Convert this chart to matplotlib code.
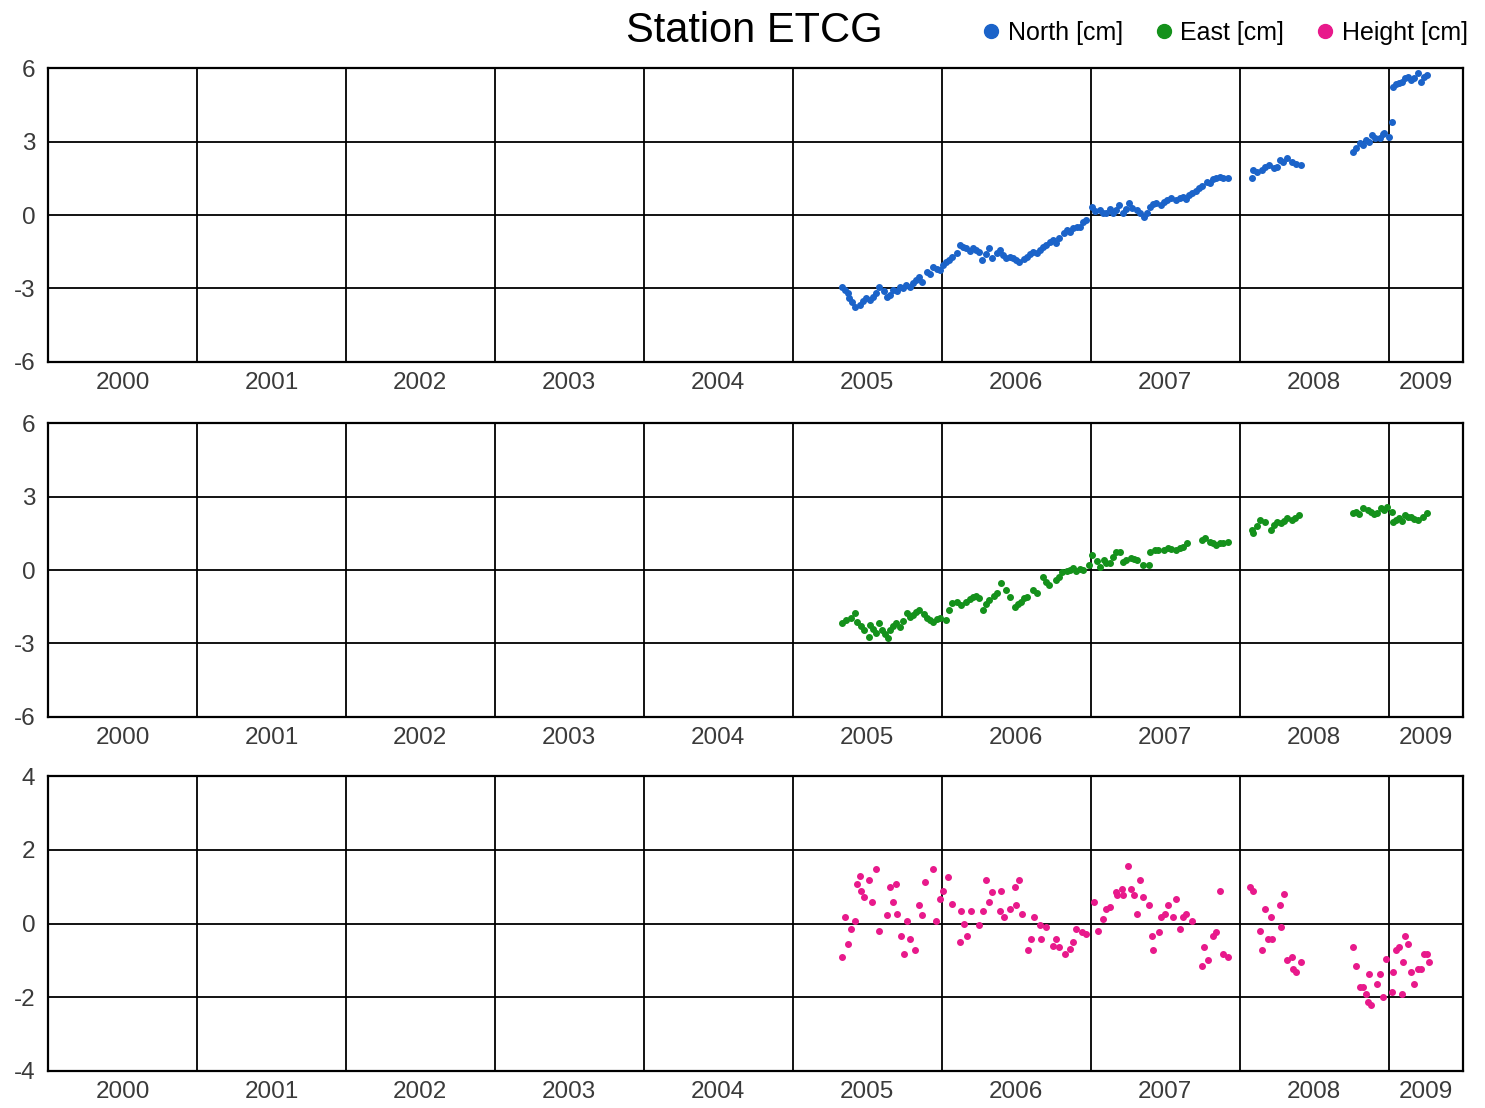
import matplotlib.pyplot as plt
from matplotlib.lines import Line2D

plt.rcParams['font.family'] = ['Liberation Sans', 'DejaVu Sans']
plt.rcParams['axes.unicode_minus'] = False

# North component [cm], decimal year / value
north_t = [2005.33, 2005.35, 2005.37, 2005.38, 2005.40, 2005.42, 2005.45, 2005.47, 2005.49, 2005.52,
           2005.54, 2005.56, 2005.58, 2005.61, 2005.63, 2005.65, 2005.67, 2005.70, 2005.72, 2005.74,
           2005.76, 2005.79, 2005.81, 2005.83, 2005.85, 2005.87, 2005.90, 2005.92, 2005.94, 2005.97,
           2005.99, 2006.01, 2006.03, 2006.05, 2006.07, 2006.10, 2006.12, 2006.14, 2006.16, 2006.19,
           2006.21, 2006.23, 2006.25, 2006.27, 2006.30, 2006.32, 2006.34, 2006.37, 2006.39, 2006.41,
           2006.43, 2006.46, 2006.48, 2006.50, 2006.52, 2006.55, 2006.57, 2006.59, 2006.61, 2006.64,
           2006.66, 2006.68, 2006.70, 2006.73, 2006.75, 2006.77, 2006.79, 2006.82, 2006.84, 2006.86,
           2006.88, 2006.91, 2006.93, 2006.95, 2006.97, 2007.01, 2007.03, 2007.06, 2007.08, 2007.10,
           2007.13, 2007.15, 2007.17, 2007.19, 2007.22, 2007.24, 2007.26, 2007.28, 2007.31, 2007.33,
           2007.36, 2007.38, 2007.40, 2007.42, 2007.44, 2007.47, 2007.49, 2007.51, 2007.54, 2007.57,
           2007.60, 2007.62, 2007.64, 2007.66, 2007.68, 2007.71, 2007.73, 2007.75, 2007.78, 2007.80,
           2007.82, 2007.84, 2007.87, 2007.89, 2007.92,
           2008.08, 2008.09, 2008.12, 2008.15, 2008.17, 2008.20, 2008.23, 2008.25, 2008.27, 2008.29,
           2008.32, 2008.35, 2008.38, 2008.41,
           2008.76, 2008.78, 2008.81, 2008.83, 2008.85, 2008.87, 2008.89, 2008.91, 2008.94, 2008.96,
           2008.97, 2009.00, 2009.02, 2009.03, 2009.05, 2009.07, 2009.09, 2009.11, 2009.13, 2009.15,
           2009.17, 2009.20, 2009.22, 2009.24, 2009.26]
north_v = [-2.95, -3.05, -3.18, -3.39, -3.55, -3.74, -3.67, -3.52, -3.40, -3.48,
           -3.33, -3.20, -2.93, -3.10, -3.33, -3.25, -3.06, -3.12, -2.93, -3.00,
           -2.86, -2.95, -2.78, -2.65, -2.52, -2.72, -2.31, -2.40, -2.11, -2.20,
           -2.24, -2.05, -1.90, -1.82, -1.70, -1.55, -1.22, -1.30, -1.36, -1.45,
           -1.36, -1.42, -1.50, -1.84, -1.60, -1.36, -1.77, -1.55, -1.43, -1.62,
           -1.77, -1.70, -1.77, -1.85, -1.90, -1.80, -1.70, -1.60, -1.50, -1.55,
           -1.43, -1.30, -1.22, -1.10, -1.02, -1.16, -0.95, -0.75, -0.61, -0.70,
           -0.54, -0.50, -0.48, -0.30, -0.20, 0.34, 0.15, 0.20, 0.10, 0.07,
           0.25, 0.07, 0.20, 0.41, 0.07, 0.25, 0.48, 0.30, 0.20, 0.10,
           -0.07, 0.10, 0.34, 0.45, 0.48, 0.40, 0.54, 0.60, 0.68, 0.62,
           0.70, 0.75, 0.65, 0.80, 0.89, 1.00, 1.09, 1.20, 1.36, 1.30,
           1.45, 1.50, 1.55, 1.50, 1.50,
           1.50, 1.84, 1.75, 1.84, 1.95, 2.04, 1.90, 1.97, 2.24, 2.15,
           2.31, 2.17, 2.10, 2.04,
           2.58, 2.75, 2.92, 2.85, 3.06, 3.00, 3.26, 3.15, 3.13, 3.30,
           3.33, 3.20, 3.81, 5.24, 5.35, 5.38, 5.45, 5.58, 5.65, 5.51,
           5.60, 5.78, 5.44, 5.65, 5.71]

# East component [cm]
east_t = [2005.33, 2005.36, 2005.39, 2005.42, 2005.43, 2005.46, 2005.48, 2005.51, 2005.52, 2005.54,
          2005.56, 2005.58, 2005.60, 2005.62, 2005.64, 2005.65, 2005.67, 2005.69, 2005.72, 2005.74,
          2005.77, 2005.79, 2005.81, 2005.83, 2005.85, 2005.88, 2005.90, 2005.92, 2005.94, 2005.97,
          2005.99, 2006.03, 2006.05, 2006.07, 2006.10, 2006.13, 2006.16, 2006.19, 2006.21, 2006.23,
          2006.25, 2006.28, 2006.30, 2006.32, 2006.35, 2006.37, 2006.40, 2006.43, 2006.46, 2006.49,
          2006.51, 2006.53, 2006.55, 2006.57, 2006.61, 2006.64, 2006.68, 2006.70, 2006.72, 2006.77,
          2006.79, 2006.81, 2006.84, 2006.86, 2006.88, 2006.90, 2006.93, 2006.95, 2006.99, 2007.01,
          2007.04, 2007.06, 2007.09, 2007.10, 2007.13, 2007.15, 2007.17, 2007.20, 2007.22, 2007.24,
          2007.27, 2007.29, 2007.31, 2007.35, 2007.39, 2007.40, 2007.43, 2007.45, 2007.49, 2007.52,
          2007.54, 2007.57, 2007.60, 2007.62, 2007.65, 2007.75, 2007.77, 2007.80, 2007.82, 2007.84,
          2007.87, 2007.89, 2007.92,
          2008.08, 2008.09, 2008.12, 2008.14, 2008.17, 2008.21, 2008.23, 2008.25, 2008.28, 2008.30,
          2008.32, 2008.35, 2008.37, 2008.40,
          2008.76, 2008.78, 2008.80, 2008.83, 2008.86, 2008.88, 2008.90, 2008.92, 2008.95, 2008.97,
          2008.99, 2009.02, 2009.03, 2009.05, 2009.07, 2009.09, 2009.11, 2009.13, 2009.15, 2009.17,
          2009.20, 2009.23, 2009.26]
east_v = [-2.18, -2.04, -1.97, -1.77, -2.11, -2.30, -2.45, -2.72, -2.24, -2.40,
          -2.58, -2.18, -2.45, -2.60, -2.79, -2.45, -2.30, -2.18, -2.31, -2.10,
          -1.77, -1.90, -1.84, -1.70, -1.63, -1.80, -1.97, -2.05, -2.11, -2.00,
          -1.97, -2.04, -1.65, -1.36, -1.29, -1.43, -1.29, -1.20, -1.09, -1.05,
          -1.16, -1.63, -1.40, -1.22, -1.05, -0.95, -0.54, -0.80, -1.09, -1.50,
          -1.40, -1.29, -1.15, -1.09, -0.82, -0.95, -0.27, -0.50, -0.61, -0.41,
          -0.30, -0.07, -0.05, 0.00, 0.07, -0.05, 0.05, 0.00, 0.20, 0.61,
          0.35, 0.14, 0.41, 0.30, 0.27, 0.54, 0.75, 0.75, 0.34, 0.40,
          0.48, 0.45, 0.41, 0.20, 0.20, 0.75, 0.82, 0.80, 0.82, 0.88,
          0.85, 0.82, 0.90, 0.95, 1.09, 1.22, 1.30, 1.16, 1.10, 1.02,
          1.10, 1.09, 1.16,
          1.63, 1.50, 1.80, 2.04, 1.97, 1.63, 1.85, 1.97, 1.90, 2.00,
          2.11, 2.05, 2.11, 2.24,
          2.31, 2.38, 2.30, 2.52, 2.45, 2.38, 2.30, 2.31, 2.52, 2.45,
          2.58, 2.38, 1.97, 2.05, 2.11, 2.00, 2.24, 2.15, 2.17, 2.10,
          2.04, 2.17, 2.31]

# Height component [cm]
height_t = [2005.33, 2005.35, 2005.37, 2005.39, 2005.42, 2005.43, 2005.45, 2005.46, 2005.48, 2005.51,
            2005.53, 2005.56, 2005.58, 2005.63, 2005.65, 2005.67, 2005.69, 2005.70, 2005.73, 2005.75,
            2005.77, 2005.79, 2005.82, 2005.85, 2005.87, 2005.89, 2005.94, 2005.96, 2005.99, 2006.01,
            2006.04, 2006.07, 2006.12, 2006.13, 2006.15, 2006.17, 2006.20, 2006.25, 2006.28, 2006.30,
            2006.32, 2006.34, 2006.39, 2006.40, 2006.42, 2006.46, 2006.49, 2006.50, 2006.52, 2006.54,
            2006.58, 2006.60, 2006.62, 2006.66, 2006.67, 2006.70, 2006.75, 2006.77, 2006.79, 2006.83,
            2006.86, 2006.88, 2006.90, 2006.94, 2006.97, 2007.02, 2007.05, 2007.08, 2007.10, 2007.13,
            2007.17, 2007.18, 2007.21, 2007.22, 2007.25, 2007.27, 2007.29, 2007.31, 2007.33, 2007.35,
            2007.39, 2007.41, 2007.42, 2007.46, 2007.47, 2007.50, 2007.52, 2007.55, 2007.57, 2007.60,
            2007.62, 2007.64, 2007.68, 2007.75, 2007.76, 2007.79, 2007.82, 2007.84, 2007.87, 2007.89,
            2007.92,
            2008.07, 2008.09, 2008.14, 2008.15, 2008.17, 2008.19, 2008.21, 2008.22, 2008.27, 2008.28,
            2008.30, 2008.32, 2008.35, 2008.36, 2008.38, 2008.41,
            2008.76, 2008.78, 2008.81, 2008.83, 2008.85, 2008.86, 2008.87, 2008.88, 2008.92, 2008.94,
            2008.96, 2008.98, 2009.02, 2009.03, 2009.05, 2009.07, 2009.09, 2009.10, 2009.11, 2009.13,
            2009.15, 2009.17, 2009.20, 2009.22, 2009.24, 2009.26, 2009.27]
height_v = [-0.91, 0.17, -0.55, -0.14, 0.08, 1.08, 1.30, 0.89, 0.71, 1.17,
            0.58, 1.48, -0.19, 0.22, 0.98, 0.58, 1.08, 0.26, -0.33, -0.82,
            0.08, -0.41, -0.73, 0.49, 0.22, 1.12, 1.48, 0.08, 0.67, 0.89,
            1.25, 0.53, -0.51, 0.35, -0.01, -0.33, 0.35, -0.05, 0.35, 1.17,
            0.58, 0.85, 0.35, 0.89, 0.17, 0.40, 0.98, 0.49, 1.17, 0.26,
            -0.73, -0.41, 0.17, -0.05, -0.41, -0.10, -0.60, -0.41, -0.64, -0.82,
            -0.69, -0.51, -0.14, -0.24, -0.28, 0.58, -0.19, 0.13, 0.40, 0.44,
            0.85, 0.76, 0.94, 0.76, 1.57, 0.94, 0.76, 0.26, 1.17, 0.71,
            0.49, -0.33, -0.73, -0.24, 0.17, 0.26, 0.49, 0.17, 0.67, -0.14,
            0.17, 0.26, 0.08, -1.14, -0.64, -1.00, -0.33, -0.24, 0.89, -0.82,
            -0.91,
            0.98, 0.89, -0.19, -0.73, 0.40, -0.41, 0.17, -0.41, 0.49, -0.10,
            0.80, -1.00, -0.91, -1.23, -1.32, -1.05,
            -0.64, -1.14, -1.73, -1.73, -1.91, -2.13, -1.36, -2.22, -1.63, -1.36,
            -2.00, -0.96, -1.86, -1.32, -0.73, -0.64, -1.91, -1.05, -0.33, -0.55,
            -1.32, -1.63, -1.23, -1.23, -0.82, -0.82, -1.05]

years = list(range(2000, 2010))
year_labels = [str(y) for y in years]
label_pos = [y + 0.5 for y in years[:-1]] + [2009.25]

series = [
    (north_t, north_v, '#1b63c9', [-6, -3, 0, 3, 6]),
    (east_t, east_v, '#14911b', [-6, -3, 0, 3, 6]),
    (height_t, height_v, '#e8198b', [-4, -2, 0, 2, 4]),
]

fig = plt.figure(figsize=(14.85, 11.08), dpi=100)
boxes = [[0.0323, 0.6733, 0.9529, 0.2653],
         [0.0323, 0.3529, 0.9529, 0.2653],
         [0.0323, 0.0334, 0.9529, 0.2662]]

for box, (t, v, col, yt) in zip(boxes, series):
    ax = fig.add_axes(box)
    ax.plot(t, v, 'o', color=col, ms=4, mec=col, zorder=3)
    ax.set_xlim(2000, 2009.5)
    ax.set_ylim(yt[0], yt[-1])
    ax.set_xticks(years, labels=[''] * len(years))
    ax.set_xticks(label_pos, labels=year_labels, minor=True)
    ax.set_yticks(yt)
    ax.grid(True, which='major', color='black', lw=1.3)
    ax.tick_params(which='both', length=0, labelsize=17.5, labelcolor='#3a3a3a')
    ax.tick_params(axis='x', which='minor', pad=7)
    ax.tick_params(axis='y', pad=9)
    for s in ax.spines.values():
        s.set_linewidth(1.6)
        s.set_color('black')

fig.text(0.508, 0.972, 'Station ETCG', ha='center', va='center', fontsize=30)

handles = [Line2D([], [], ls='none', marker='o', ms=10, color=c)
           for c in ['#1b63c9', '#14911b', '#e8198b']]
fig.legend(handles, ['North [cm]', 'East [cm]', 'Height [cm]'],
           loc='center right', bbox_to_anchor=(1.0, 0.970), ncol=3, frameon=False,
           fontsize=18, handlelength=0.6, handletextpad=0.35, columnspacing=1.35,
           borderpad=0.2)

plt.savefig('out.png', dpi=100)
